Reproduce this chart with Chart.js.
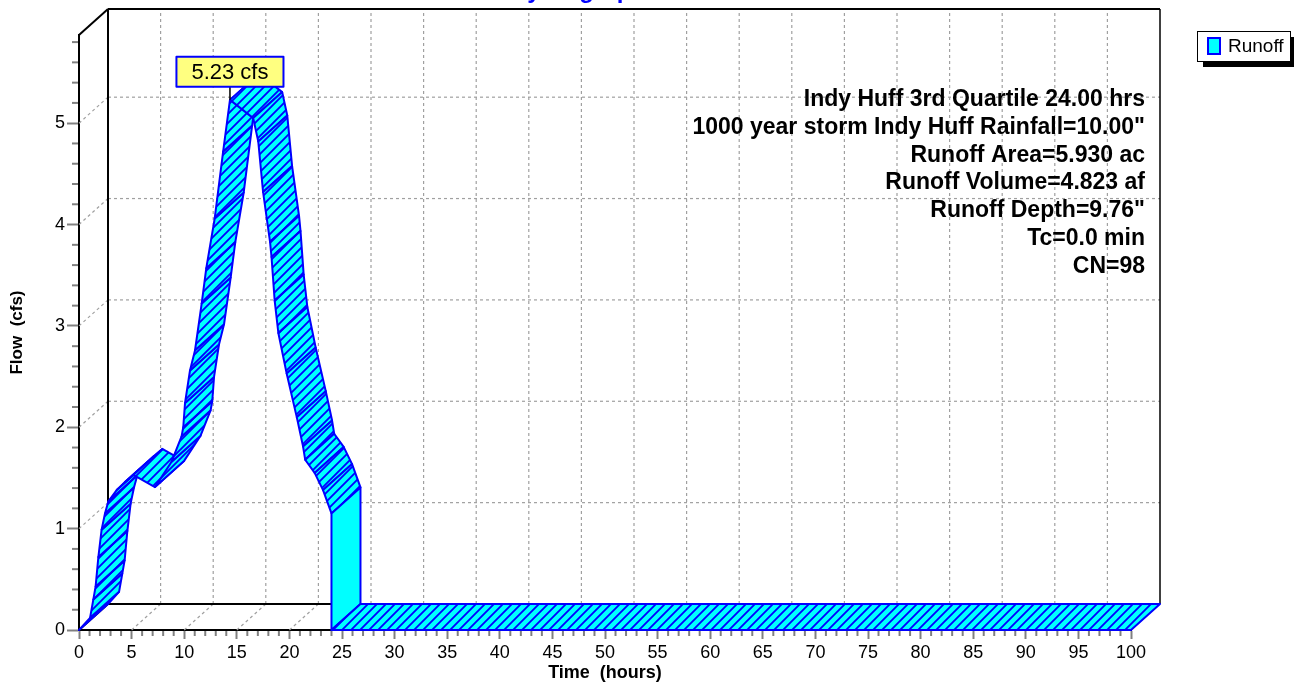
<!DOCTYPE html>
<html>
<head>
<meta charset="utf-8">
<script src="https://cdn.jsdelivr.net/npm/chart.js@4.4.1/dist/chart.umd.min.js"></script>
<style>
  body { margin: 0; background: #fff; }
  canvas { display: block; }
</style>
</head>
<body>
<canvas id="hydro" width="1294" height="687"></canvas>
<script>
// runoff hydrograph, front edge of the ribbon
var timeHours = [0, 1.05, 1.36, 1.58, 1.84, 2.15, 2.47, 2.79, 3.58, 4.37, 5.16, 7.22, 8.8, 9.75, 9.91, 10.08,
                 10.55, 11.03, 11.66, 12.1, 12.9, 13.7, 14.35, 16.56, 17.04, 17.5, 18.16, 18.3, 18.6, 18.95,
                 19.74, 20.7, 21.3, 21.5, 22.4, 23.2, 24.0, 24.0, 100];
var flowCfs = [0, 0.12, 0.30, 0.43, 0.72, 0.99, 1.15, 1.27, 1.38, 1.46, 1.53, 1.41, 1.66, 1.91, 2.0, 2.24,
               2.56, 2.76, 3.22, 3.57, 4.06, 4.72, 5.23, 5.05, 4.82, 4.32, 3.83, 3.68, 3.25, 2.93,
               2.53, 2.10, 1.81, 1.68, 1.55, 1.38, 1.15, 0, 0];

var xTickValues = [0, 5, 10, 15, 20, 25, 30, 35, 40, 45, 50, 55, 60, 65, 70, 75, 80, 85, 90, 95, 100];
var yTickValues = [0, 1, 2, 3, 4, 5];
var yMax = 5.87;

var seriesName = 'Runoff';
var chartTitle = 'Hydrograph';
var stormInfo = [
  'Indy Huff 3rd Quartile 24.00 hrs',
  '1000 year storm Indy Huff Rainfall=10.00"',
  'Runoff Area=5.930 ac',
  'Runoff Volume=4.823 af',
  'Runoff Depth=9.76"',
  'Tc=0.0 min',
  'CN=98'
];

var FONT = '"Liberation Sans", Arial, sans-serif';
var DX = 29, DY = 26;          // depth of the 3d box
var CYAN = '#00FFFF', BLUE = '#0000FF';

Chart.defaults.font.family = FONT;

function hatchPattern(ctx) {
  var s = 9;
  var c = document.createElement('canvas');
  c.width = s; c.height = s;
  var g = c.getContext('2d');
  g.strokeStyle = BLUE;
  g.lineWidth = 1.8;
  g.beginPath();
  g.moveTo(-1, s + 1); g.lineTo(s + 1, -1);
  g.moveTo(-1, 1); g.lineTo(1, -1);
  g.moveTo(s - 1, s + 1); g.lineTo(s + 1, s - 1);
  g.stroke();
  return ctx.createPattern(c, 'repeat');
}

function line(ctx, ax, ay, bx, by) {
  ctx.beginPath();
  ctx.moveTo(ax, ay);
  ctx.lineTo(bx, by);
  ctx.stroke();
}

var box3d = {
  id: 'box3d',
  beforeDatasetsDraw: function(chart) {
    var ctx = chart.ctx, xs = chart.scales.x, ys = chart.scales.y;
    var x0 = xs.getPixelForValue(0), x1 = xs.getPixelForValue(100);
    var y0 = ys.getPixelForValue(0), y1 = ys.getPixelForValue(yMax);
    ctx.save();
    // back grid + diagonals
    ctx.strokeStyle = '#a0a0a0';
    ctx.lineWidth = 1.2;
    ctx.setLineDash([3, 3]);
    xTickValues.forEach(function(t) {
      var px = xs.getPixelForValue(t);
      if (t > 0 && t < 100) {
        line(ctx, px + DX, y0 - DY, px + DX, y1 - DY);
        line(ctx, px, y0, px + DX, y0 - DY);
      }
    });
    yTickValues.forEach(function(q) {
      var py = ys.getPixelForValue(q);
      if (q > 0) {
        line(ctx, x0 + DX, py - DY, x1 + DX, py - DY);
        line(ctx, x0, py, x0 + DX, py - DY);
      }
    });
    ctx.setLineDash([]);
    // back box
    ctx.strokeStyle = '#000';
    ctx.lineWidth = 2;
    line(ctx, x0 + DX, y1 - DY, x0 + DX, y0 - DY);
    line(ctx, x0 + DX, y1 - DY, x1 + DX, y1 - DY);
    line(ctx, x0 + DX, y0 - DY, x1 + DX, y0 - DY);
    ctx.lineWidth = 1.5;
    line(ctx, x1 + DX, y1 - DY, x1 + DX, y0 - DY);
    ctx.lineWidth = 2;
    line(ctx, x0, y1, x0 + DX, y1 - DY);
    line(ctx, x0, y0, x0 + DX, y0 - DY);
    ctx.restore();
  },
  afterDatasetsDraw: function(chart) {
    var ctx = chart.ctx;
    var pts = chart.getDatasetMeta(0).data;
    var pat = hatchPattern(ctx);
    ctx.save();
    ctx.lineJoin = 'round';
    for (var i = 0; i < pts.length - 1; i++) {
      var p = pts[i], q = pts[i + 1];
      ctx.beginPath();
      ctx.moveTo(p.x, p.y);
      ctx.lineTo(q.x, q.y);
      ctx.lineTo(q.x + DX, q.y - DY);
      ctx.lineTo(p.x + DX, p.y - DY);
      ctx.closePath();
      ctx.fillStyle = CYAN;
      ctx.fill();
      if (Math.abs(q.x - p.x) > 0.5) {
        ctx.fillStyle = pat;
        ctx.fill();
      }
      ctx.strokeStyle = BLUE;
      ctx.lineWidth = 2;
      ctx.stroke();
    }

    // peak label
    var pk = flowCfs.indexOf(Math.max.apply(null, flowCfs));
    var pp = pts[pk];
    var txt = flowCfs[pk].toFixed(2) + ' cfs';
    ctx.font = '22px ' + FONT;
    var w = ctx.measureText(txt).width + 30, h = 30;
    var bx = pp.x - w / 2, by = pp.y - 13 - h;
    ctx.strokeStyle = '#000';
    ctx.lineWidth = 1.5;
    line(ctx, pp.x, by + h, pp.x, pp.y);
    ctx.fillStyle = '#FFFF80';
    ctx.fillRect(bx, by, w, h);
    ctx.strokeStyle = BLUE;
    ctx.lineWidth = 2;
    ctx.strokeRect(bx, by, w, h);
    ctx.fillStyle = '#000';
    ctx.textAlign = 'center';
    ctx.textBaseline = 'middle';
    ctx.fillText(txt, pp.x, by + h / 2 + 1);

    // storm info
    ctx.font = 'bold 23px ' + FONT;
    ctx.textAlign = 'right';
    ctx.textBaseline = 'alphabetic';
    var right = chart.chartArea.right + 14;
    stormInfo.forEach(function(s, k) {
      ctx.fillText(s, right, chart.chartArea.top + 71 + k * 27.8);
    });
    ctx.restore();
  },
  afterDraw: function(chart) {
    var ctx = chart.ctx, xs = chart.scales.x, ys = chart.scales.y;
    var x0 = xs.getPixelForValue(0), y0 = ys.getPixelForValue(0);
    ctx.save();
    // minor ticks
    ctx.strokeStyle = '#808080';
    ctx.lineWidth = 2;
    for (var t = 1; t < 100; t++) {
      if (t % 5 === 0) continue;
      var px = xs.getPixelForValue(t);
      line(ctx, px, y0 + 1, px, y0 + 6);
    }
    for (var k = 1; k < 30; k++) {
      if (k % 5 === 0) continue;
      var v = k * 0.2;
      if (v > yMax) break;
      var py = ys.getPixelForValue(v);
      line(ctx, x0 - 7, py, x0 - 1, py);
    }

    // title (mostly cut off at the top)
    ctx.fillStyle = BLUE;
    ctx.font = 'bold 24px ' + FONT;
    ctx.textAlign = 'center';
    ctx.textBaseline = 'alphabetic';
    ctx.fillText(chartTitle, 578, -2);

    // legend
    var lx = 1197, ly = 31, lw = 93, lh = 30;
    ctx.fillStyle = '#000';
    ctx.fillRect(lx + 6, ly + 6, lw, lh);
    ctx.fillStyle = '#fff';
    ctx.fillRect(lx, ly, lw, lh);
    ctx.strokeStyle = '#000';
    ctx.lineWidth = 1;
    ctx.strokeRect(lx + 0.5, ly + 0.5, lw, lh);
    ctx.fillStyle = CYAN;
    ctx.fillRect(lx + 11, ly + 7, 12, 16);
    ctx.strokeStyle = BLUE;
    ctx.lineWidth = 2;
    ctx.strokeRect(lx + 11, ly + 7, 12, 16);
    ctx.fillStyle = '#000';
    ctx.font = '19px ' + FONT;
    ctx.textAlign = 'left';
    ctx.textBaseline = 'middle';
    ctx.fillText(chart.data.datasets[0].label, lx + 31, ly + lh / 2 + 1);
    ctx.restore();
  }
};

var points = timeHours.map(function(t, i) { return { x: t, y: flowCfs[i] }; });

new Chart(document.getElementById('hydro'), {
  type: 'line',
  data: {
    datasets: [{
      label: seriesName,
      data: points,
      showLine: false,
      pointRadius: 0,
      borderColor: BLUE,
      backgroundColor: CYAN
    }]
  },
  options: {
    responsive: false,
    animation: false,
    layout: { padding: { top: 35, right: 163, left: 0, bottom: 0 } },
    plugins: {
      legend: { display: false },
      title: { display: false },
      tooltip: { enabled: false }
    },
    scales: {
      x: {
        type: 'linear',
        min: 0,
        max: 100,
        afterFit: function(s) { s.height = 57; },
        afterBuildTicks: function(s) { s.ticks = xTickValues.map(function(v) { return { value: v }; }); },
        grid: { drawOnChartArea: false, tickLength: 9, tickColor: '#808080', tickWidth: 2 },
        border: { color: '#000', width: 2 },
        ticks: { color: '#000', font: { size: 18 }, padding: 3, maxRotation: 0, autoSkip: false },
        title: { display: true, text: 'Time  (hours)', color: '#000', font: { size: 18, weight: 'bold' }, padding: { top: 3, bottom: 3 } }
      },
      y: {
        type: 'linear',
        min: 0,
        max: yMax,
        afterFit: function(s) { s.width = 79; },
        afterBuildTicks: function(s) { s.ticks = yTickValues.map(function(v) { return { value: v }; }); },
        grid: { drawOnChartArea: false, tickLength: 12, tickColor: '#808080', tickWidth: 2 },
        border: { color: '#000', width: 2 },
        ticks: { color: '#000', font: { size: 18 }, padding: 2 },
        title: { display: true, text: 'Flow  (cfs)', color: '#000', font: { size: 17, weight: 'bold' }, padding: { top: 7, bottom: 0 } }
      }
    }
  },
  plugins: [box3d]
});
</script>
</body>
</html>
